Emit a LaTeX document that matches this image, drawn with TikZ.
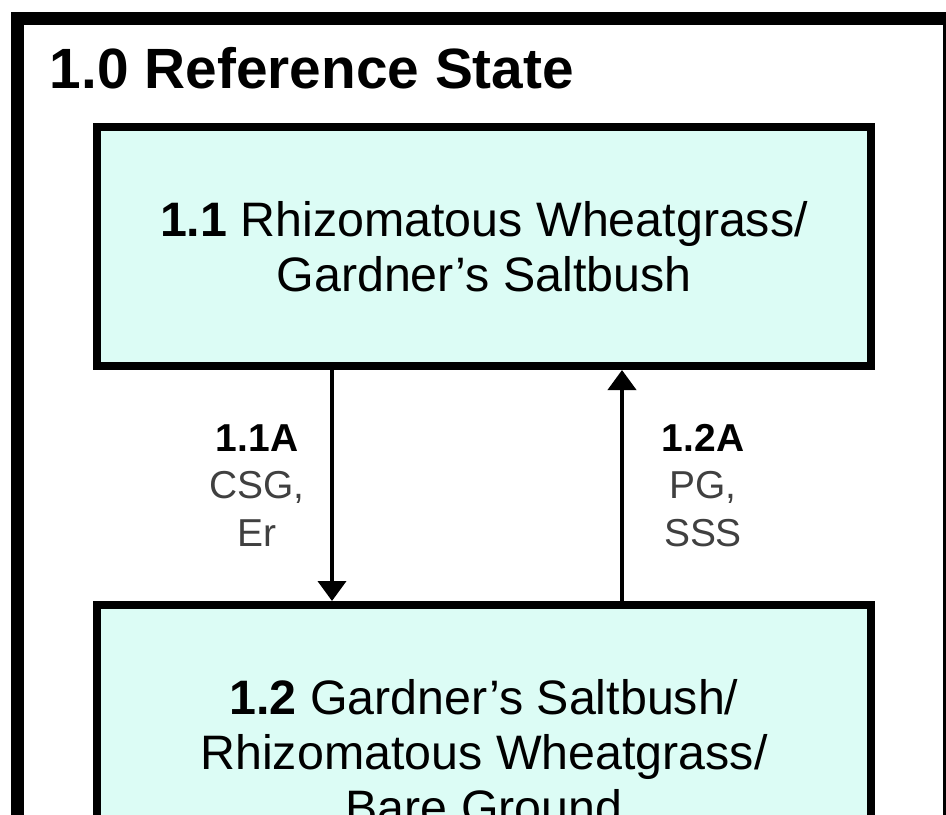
\documentclass[tikz,border=0pt]{standalone}
\usepackage{fontspec}
\setmainfont{Liberation Sans}
\usepackage{xcolor}
\usepackage{tikz}
\usetikzlibrary{shapes,arrows.meta}
\definecolor{stateteal}{RGB}{220,252,245}
\definecolor{labelgrey}{RGB}{64,64,64}
\tikzstyle{statebox} = [rectangle, draw, line width=0.2cm, fill=stateteal,
    minimum width=19.35cm, align=center, font=\fontsize{34.4}{39}\selectfont]
\tikzstyle{arrow} = [draw, -{Triangle[width=0.7cm,length=0.5cm]}, line width=0.1cm]
\tikzstyle{pathlabel} = [align=center, font=\fontsize{27.7}{34}\selectfont, text=labelgrey]

\begin{document}
\begin{tikzpicture}[node distance = 12.6375cm]
			\useasboundingbox (0,0) rectangle (23.65,-20.35);
			\clip (0,0) rectangle (23.65,-20.35);
			% Outer frame
			\draw [line width=0.325cm] (0.4375,-0.4625) rectangle (23.7375,-22);
			% Place nodes
			\node [anchor=base west, font=\bfseries\fontsize{40.4}{48}\selectfont] (refState) at (1.125,-2.2) {1.0 Reference State};
			\node [statebox, minimum height=5.975cm] (rhizWheat) at (12.1,-6.1625) {\textbf{1.1} Rhizomatous Wheatgrass/\\Gardner's Saltbush};
			\node [statebox, minimum height=7.35cm, below of=rhizWheat] (gardSalt) {\textbf{1.2} Gardner's Saltbush/\\Rhizomatous Wheatgrass/\\Bare Ground};
			% Transitions
			\path [arrow] ([xshift=-3.8cm]rhizWheat.south) -- ([xshift=-3.8cm]gardSalt.north)
				node [pathlabel, midway, xshift=-1.875cm] {{\color{black}\textbf{1.1A}}\\CSG,\\Er};
			\path [arrow] ([xshift=3.45cm]gardSalt.north) -- ([xshift=3.45cm]rhizWheat.south)
				node [pathlabel, midway, xshift=2.025cm] {{\color{black}\textbf{1.2A}}\\PG,\\SSS};
	\end{tikzpicture}
\end{document}
